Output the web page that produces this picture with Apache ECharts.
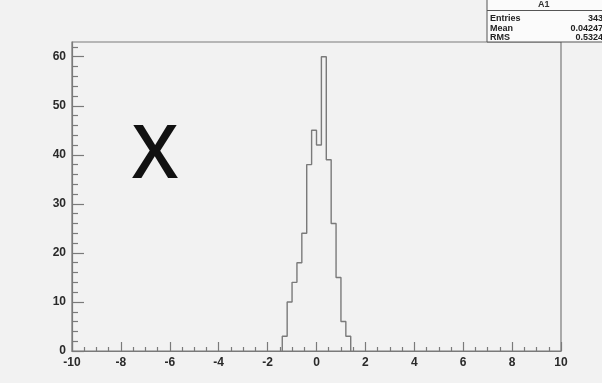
<!DOCTYPE html>
<html>
<head>
<meta charset="utf-8">
<script src="https://cdn.jsdelivr.net/npm/echarts@6/dist/echarts.min.js"></script>
<style>
  html, body { margin: 0; padding: 0; background: #f2f2f2; }
  #chart { width: 602px; height: 383px; }
</style>
</head>
<body>
<div id="chart"></div>
<script>
// Histogram contents: 14 bins of width 0.2 between -1.4 and 1.4
const binEdges = [-1.4, -1.2, -1.0, -0.8, -0.6, -0.4, -0.2, 0.0, 0.2, 0.4, 0.6, 0.8, 1.0, 1.2, 1.4];
const counts   = [3, 10, 14, 18, 24, 38, 45, 42, 60, 39, 26, 15, 6, 3];

// Axis ranges and tick labels
const xRange = [-10, 10];
const yRange = [0, 63];
const yTickValues = [0, 10, 20, 30, 40, 50, 60];

// Statistics panel text
const statsTitle = 'A1';
const statsRows = [
  ['Entries', '343'],
  ['Mean', '0.04247'],
  ['RMS', '0.5324']
];

// Outline of the histogram as a stepped line (vertical rise at each bin edge)
const outline = [[binEdges[0], 0]];
counts.forEach((c, i) => outline.push([binEdges[i], c]));
outline.push([binEdges[binEdges.length - 1], 0]);

const lineCol = '#7a7a7a';
const labelFont = { color: '#2a2a2a', fontFamily: 'Liberation Sans', fontWeight: 'bold', fontSize: 12 };

const chart = echarts.init(document.getElementById('chart'), null, { renderer: 'canvas' });

const statsGraphics = [
  {
    type: 'rect',
    shape: { x: 487, y: -2, width: 130, height: 44 },
    style: { fill: '#fbfbfb', stroke: '#555', lineWidth: 1 }
  },
  {
    type: 'line',
    shape: { x1: 487, y1: 10.5, x2: 602, y2: 10.5 },
    style: { stroke: '#555', lineWidth: 1 }
  },
  {
    type: 'text',
    left: 538, top: 0,
    style: { text: statsTitle, font: 'bold 9px "Liberation Sans"', fill: '#333' }
  }
];
statsRows.forEach((row, i) => {
  const y = 19 + i * 9.5;
  statsGraphics.push({
    type: 'text', x: 490, y: y,
    style: { text: row[0], font: 'bold 9px "Liberation Sans"', fill: '#222', textVerticalAlign: 'middle', textAlign: 'left' }
  });
  statsGraphics.push({
    type: 'text', x: 603, y: y,
    style: { text: row[1], font: 'bold 9px "Liberation Sans"', fill: '#222', textVerticalAlign: 'middle', textAlign: 'right' }
  });
});

chart.setOption({
  backgroundColor: '#f2f2f2',
  animation: false,
  grid: {
    left: 72, right: 41, top: 42, bottom: 32,
    show: true, borderColor: lineCol, borderWidth: 1.2, backgroundColor: 'transparent'
  },
  xAxis: {
    type: 'value', min: xRange[0], max: xRange[1], interval: 2,
    axisLine: { show: true, onZero: false, lineStyle: { color: lineCol, width: 1.2 } },
    axisTick: { show: true, inside: true, length: 9, lineStyle: { color: lineCol, width: 1.2 } },
    minorTick: { show: true, splitNumber: 4, length: 4, lineStyle: { color: lineCol, width: 1.2 } },
    axisLabel: Object.assign({ margin: 6 }, labelFont),
    splitLine: { show: false }
  },
  yAxis: {
    type: 'value', min: yRange[0], max: yRange[1], interval: 10,
    axisLine: { show: true, onZero: false, lineStyle: { color: lineCol, width: 1.2 } },
    axisTick: { show: true, inside: true, length: 12, lineStyle: { color: lineCol, width: 1.2 }, customValues: yTickValues },
    minorTick: { show: true, splitNumber: 5, length: 6, lineStyle: { color: lineCol, width: 1.2 } },
    axisLabel: Object.assign({ margin: 6, customValues: yTickValues }, labelFont),
    splitLine: { show: false }
  },
  series: [{
    type: 'line',
    step: 'end',
    data: outline,
    symbol: 'none',
    lineStyle: { color: lineCol, width: 1.4 },
    z: 3
  }],
  graphic: [
    {
      type: 'text',
      x: 155, y: 157,
      style: {
        text: 'X',
        font: '600 74px "Open Sans"',
        fill: '#111',
        textAlign: 'center',
        textVerticalAlign: 'middle',
        shadowColor: 'rgba(200,110,20,0.7)',
        shadowOffsetX: -1,
        shadowBlur: 1
      }
    }
  ].concat(statsGraphics)
});
</script>
</body>
</html>
